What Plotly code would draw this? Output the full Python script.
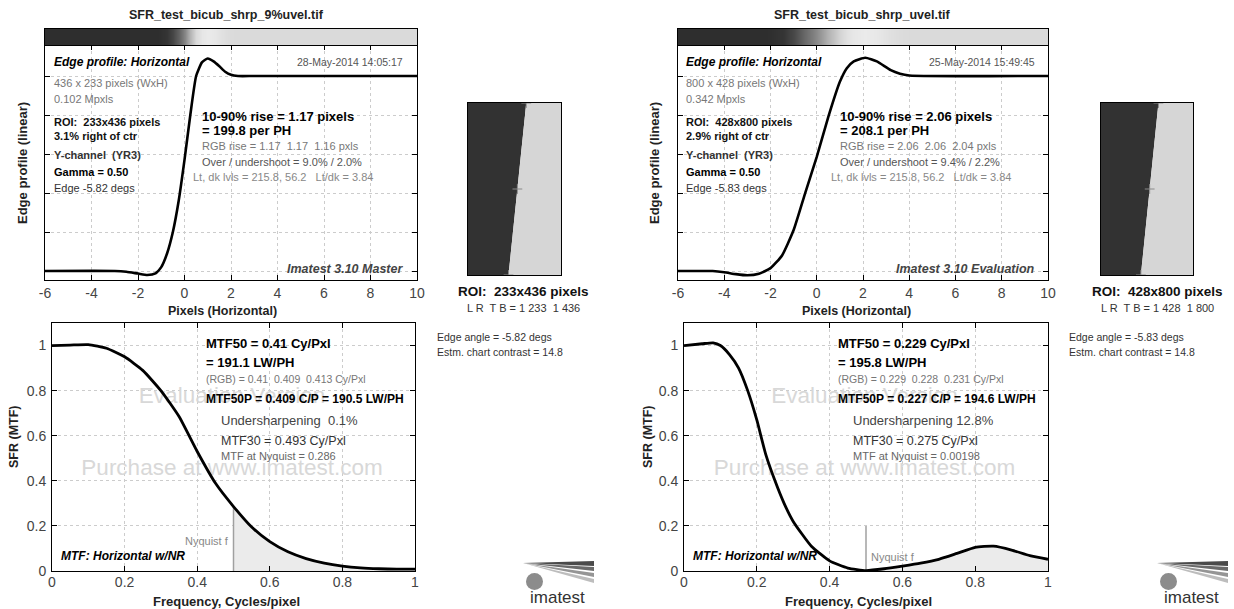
import math
import plotly.graph_objects as go

W, H = 1234, 609
FONT = "Liberation Sans, Arial, Helvetica, sans-serif"
NB = "\u00a0"

# ---------------- data ----------------
file_names = ["SFR_test_bicub_shrp_9%uvel.tif", "SFR_test_bicub_shrp_uvel.tif"]
dates = ["28-May-2014 14:05:17", "25-May-2014 15:49:45"]
image_size = ["436 x 233 pixels (WxH)", "800 x 428 pixels (WxH)"]
mpxls = ["0.102 Mpxls", "0.342 Mpxls"]
roi_w = [233, 428]
roi_h = [436, 800]
roi_offset_pct = [3.1, 2.9]
edge_angle = [-5.82, -5.83]
gamma = [0.50, 0.50]
rise_px = [1.17, 2.06]
rise_ph = [199.8, 208.1]
rgb_rise = [[1.17, 1.17, 1.16], [2.06, 2.06, 2.04]]
over_under = [[9.0, 2.0], [9.4, 2.2]]
lt_dk = [[215.8, 56.2, 3.84], [215.8, 56.2, 3.84]]
version = ["Imatest 3.10 Master", "Imatest 3.10 Evaluation"]
mtf50 = [0.41, 0.229]
mtf50_lwph = [191.1, 195.8]
mtf50_rgb = [["0.41", "0.409", "0.413"], ["0.229", "0.228", "0.231"]]
mtf50p = [0.409, 0.227]
mtf50p_lwph = [190.5, 194.6]
undersharp = ["0.1%", "12.8%"]
mtf30 = [0.493, 0.275]
mtf_nyq = ["0.286", "0.00198"]
chart_contrast = [14.8, 14.8]
nyquist_f = 0.5

edge_x_left = [-6, -3, -2.5, -2, -1.6, -1.25, -1, -0.75, -0.5, -0.25, 0, 0.25, 0.5,
               0.75, 1.0, 1.25, 1.5, 1.75, 2.0, 2.3, 3, 10]
edge_y_left = [0, 0, -0.004, -0.013, -0.02, -0.012, 0.02, 0.09, 0.2, 0.36, 0.57, 0.80, 1.0,
               1.07, 1.09, 1.075, 1.05, 1.022, 1.006, 1.0, 1.0, 1.0]
edge_x_right = [-6, -4.5, -4, -3.5, -3, -2.5, -2, -1.5, -1, -0.5, 0, 0.5, 1.0, 1.3,
                1.6, 2.1, 2.6, 3.2, 3.6, 4.0, 10]
edge_y_right = [0, 0, -0.006, -0.016, -0.022, -0.014, 0.015, 0.08, 0.21, 0.40, 0.585, 0.79,
                0.97, 1.04, 1.075, 1.094, 1.075, 1.03, 1.012, 1.003, 1.0]

mtf_f_left = [0, 0.05, 0.1, 0.15, 0.2, 0.25, 0.3, 0.35, 0.4, 0.45, 0.5, 0.55, 0.6, 0.65,
              0.7, 0.75, 0.8, 0.85, 0.9, 0.95, 1.0]
mtf_left = [1.0, 1.002, 1.004, 0.988, 0.95, 0.89, 0.80, 0.685, 0.53, 0.39, 0.286, 0.195,
            0.13, 0.085, 0.055, 0.035, 0.022, 0.014, 0.010, 0.008, 0.008]
mtf_f_right = [0, 0.05, 0.08, 0.1, 0.125, 0.15, 0.175, 0.2, 0.225, 0.25, 0.275, 0.3, 0.35,
               0.4, 0.45, 0.5, 0.55, 0.6, 0.65, 0.7, 0.75, 0.8, 0.85, 0.9, 0.95, 1.0]
mtf_right = [1.0, 1.008, 1.012, 1.0, 0.96, 0.90, 0.80, 0.67, 0.515, 0.40, 0.30, 0.22, 0.11,
             0.045, 0.013, 0.002, 0.01, 0.022, 0.035, 0.052, 0.078, 0.105, 0.11, 0.093,
             0.068, 0.052]

edge_ticks = [-6, -4, -2, 0, 2, 4, 6, 8, 10]
edge_labels = ["-6", "-4", "-2", "0", "2", "4", "6", "8", "10"]
level_ticks = [0, 0.2, 0.4, 0.6, 0.8, 1.0]
freq_ticks = [0, 0.2, 0.4, 0.6, 0.8, 1.0]
freq_labels = ["0", "0.2", "0.4", "0.6", "0.8", "1"]
sfr_ticks = [0, 0.2, 0.4, 0.6, 0.8, 1.0]
sfr_labels = ["0", "0.2", "0.4", "0.6", "0.8", "1"]

edge_x = [edge_x_left, edge_x_right]
edge_y = [edge_y_left, edge_y_right]
mtf_f = [mtf_f_left, mtf_f_right]
mtf_v = [mtf_left, mtf_right]

# ---------------- layout geometry (pixels) ----------------
TOP_X = [(45, 417), (678, 1048)]
BOT_X = [(52, 415), (684, 1048)]
ROI_X = [(468, 561), (1101, 1193)]
TOP_Y = (45, 280)
BAR_Y = (29, 45)
BOT_Y = (323, 571)
ROI_Y = (103, 275)


def dx(a, b):
    return [a / W, b / W]


def dy(a, b):
    return [1 - b / H, 1 - a / H]


def ann(x, y, text, size=11, color="#000", bold=False, italic=False, xanchor="left",
        angle=0):
    text = text.replace("  ", NB + " ")
    if italic:
        text = f"<i>{text}</i>"
    if bold:
        text = f"<b>{text}</b>"
    return dict(x=x / W, y=1 - y / H, xref="paper", yref="paper", text=text,
                showarrow=False, xanchor=xanchor, yanchor="middle", textangle=angle,
                font=dict(family=FONT, size=size, color=color))


fig = go.Figure()
annotations = []
shapes = []
layout_axes = {}

GRID = dict(showgrid=True, gridcolor="#cccccc", griddash="dot", gridwidth=1)
FRAME = dict(showline=True, linecolor="#000", linewidth=1, mirror="ticks", zeroline=False,
             ticks="inside", ticklen=5, tickcolor="#000", tickwidth=1, automargin=False,
             tickfont=dict(family=FONT, size=14, color="#444"))
PLAIN = dict(showgrid=False, showticklabels=False, ticks="", zeroline=False, showline=True,
             mirror=True, linecolor="#000", linewidth=1, automargin=False)

bar_scale = [[0, "#2e2e2e"], [0.09, "#363636"], [0.45, "#7a7a7a"], [0.88, "#d4d4d4"],
             [1, "#ececec"]]

for s in range(2):
    ox = 632 * s
    n = 4 * s
    ia, ib, ic, idd = n + 1, n + 2, n + 3, n + 4
    xa = lambda i: "x" if i == 1 else f"x{i}"
    ya = lambda i: "y" if i == 1 else f"y{i}"
    lk = lambda p, i: f"{p}axis" if i == 1 else f"{p}axis{i}"

    # --- edge profile ---
    fig.add_trace(go.Scatter(x=edge_x[s], y=edge_y[s], mode="lines",
                             line=dict(color="#000", width=2.6, shape="spline", smoothing=0.5),
                             xaxis=xa(ia), yaxis=ya(ia), showlegend=False, hoverinfo="skip"))
    layout_axes[lk("x", ia)] = dict(domain=dx(*TOP_X[s]), range=[-6, 10], tickvals=edge_ticks,
                                    ticktext=edge_labels, anchor=ya(ia), ticklabelstandoff=0,
                                    **GRID, **FRAME)
    layout_axes[lk("y", ia)] = dict(domain=dy(*TOP_Y), range=[-0.046, 1.159],
                                    tickvals=level_ticks, showticklabels=False,
                                    anchor=xa(ia), **GRID, **FRAME)

    # --- gray-level bar above the profile ---
    fig.add_trace(go.Heatmap(x=edge_x[s], y=[0, 1], z=[edge_y[s], edge_y[s]],
                             colorscale=bar_scale, zmin=0, zmax=1.1, zsmooth="best",
                             showscale=False, xaxis=xa(ib), yaxis=ya(ib), hoverinfo="skip"))
    layout_axes[lk("x", ib)] = dict(domain=dx(*TOP_X[s]), range=[-6, 10], anchor=ya(ib),
                                    **PLAIN)
    layout_axes[lk("y", ib)] = dict(domain=dy(*BAR_Y), range=[0, 1], anchor=xa(ib), **PLAIN)

    # --- MTF ---
    fv = mtf_f[s]
    mv = mtf_v[s]
    fig.add_trace(go.Scatter(x=[0.496, 0.496], y=[0.77, 0.449], mode="text",
                             text=["Evaluation Version", "Purchase at www.imatest.com"],
                             textfont=dict(family=FONT, size=22.5, color="#d8d8d8"),
                             textposition="middle center", xaxis=xa(ic), yaxis=ya(ic),
                             showlegend=False, hoverinfo="skip"))
    hi_f = [f for f in fv if f >= nyquist_f]
    hi_v = [v for f, v in zip(fv, mv) if f >= nyquist_f]
    fig.add_trace(go.Scatter(x=hi_f, y=hi_v, mode="lines", fill="tozeroy",
                             fillcolor="#ebebeb", line=dict(width=0, shape="spline",
                                                            smoothing=0.5),
                             xaxis=xa(ic), yaxis=ya(ic), showlegend=False, hoverinfo="skip"))
    nyq_v = mv[fv.index(nyquist_f)]
    fig.add_trace(go.Scatter(x=[nyquist_f, nyquist_f], y=[0, max(0.2, nyq_v)], mode="lines",
                             line=dict(color="#a0a0a0", width=1.5), xaxis=xa(ic),
                             yaxis=ya(ic), showlegend=False, hoverinfo="skip"))
    fig.add_trace(go.Scatter(x=fv, y=mv, mode="lines",
                             line=dict(color="#000", width=2.8, shape="spline", smoothing=0.5),
                             xaxis=xa(ic), yaxis=ya(ic), showlegend=False, hoverinfo="skip"))
    layout_axes[lk("x", ic)] = dict(domain=dx(*BOT_X[s]), range=[0, 1], tickvals=freq_ticks,
                                    ticktext=freq_labels, anchor=ya(ic),
                                    ticklabelstandoff=-2, **GRID, **FRAME)
    layout_axes[lk("y", ic)] = dict(domain=dy(*BOT_Y), range=[0, 1.1], tickvals=sfr_ticks,
                                    ticktext=sfr_labels, anchor=xa(ic),
                                    ticklabelstandoff=2, **GRID, **FRAME)

    # --- ROI image ---
    w, h = roi_w[s], roi_h[s]
    cx = w * (0.5 + roi_offset_pct[s] / 100)
    shift = -h * math.tan(math.radians(edge_angle[s]))
    x_top, x_bot = cx + shift / 2, cx - shift / 2
    fig.add_trace(go.Scatter(x=[0, x_top, x_bot, 0, 0], y=[0, 0, h, h, 0], mode="lines",
                             fill="toself", fillcolor="#323232", line=dict(width=0),
                             xaxis=xa(idd), yaxis=ya(idd), showlegend=False,
                             hoverinfo="skip"))
    fig.add_trace(go.Scatter(x=[x_top, w, w, x_bot, x_top], y=[0, 0, h, h, 0], mode="lines",
                             fill="toself", fillcolor="#d6d6d6", line=dict(width=0),
                             xaxis=xa(idd), yaxis=ya(idd), showlegend=False,
                             hoverinfo="skip"))
    fig.add_trace(go.Scatter(x=[cx, x_top, x_bot], y=[h / 2, 0, h], mode="markers",
                             marker=dict(symbol="cross-thin", size=7,
                                         line=dict(color="#8a8a8a", width=1)),
                             xaxis=xa(idd), yaxis=ya(idd), showlegend=False,
                             hoverinfo="skip"))
    layout_axes[lk("x", idd)] = dict(domain=dx(*ROI_X[s]), range=[0, w], anchor=ya(idd),
                                     **PLAIN)
    layout_axes[lk("y", idd)] = dict(domain=dy(*ROI_Y), range=[h, 0], anchor=xa(idd), **PLAIN)

    # --- texts ---
    title_x = [226, 862][s]
    annotations.append(ann(title_x, 15, file_names[s], 12.5, "#222", bold=True, xanchor="center"))
    annotations.append(ann(52 + ox, 62, "Edge profile: Horizontal", 12, "#000", bold=True,
                           italic=True))
    annotations.append(ann(405 + ox, 62, dates[s], 10.5, "#555", xanchor="right"))
    annotations.append(ann(52 + ox, 83, image_size[s], 11, "#777"))
    annotations.append(ann(52 + ox, 99, mpxls[s], 11, "#777"))
    annotations.append(ann(52 + ox, 122, f"ROI:  {w}x{h} pixels", 11, "#111", bold=True))
    annotations.append(ann(52 + ox, 136, f"{roi_offset_pct[s]}% right of ctr", 11, "#111",
                           bold=True))
    annotations.append(ann(52 + ox, 155, "Y-channel  (YR3)", 11, "#333", bold=True))
    annotations.append(ann(52 + ox, 172, f"Gamma = {gamma[s]:.2f}", 11, "#000", bold=True))
    annotations.append(ann(52 + ox, 188, f"Edge {edge_angle[s]} degs", 11, "#333"))
    ro = ox + 6 * s
    annotations.append(ann(200 + ro, 117, f"10-90% rise = {rise_px[s]} pixels", 13, "#000",
                           bold=True))
    annotations.append(ann(200 + ro, 131, f"= {rise_ph[s]} per PH", 13, "#000", bold=True))
    r = rgb_rise[s]
    annotations.append(ann(200 + ro, 146, f"RGB rise = {r[0]:.2f}  {r[1]:.2f}  {r[2]:.2f} pxls",
                           11, "#777"))
    ou = over_under[s]
    annotations.append(ann(200 + ro, 162, f"Over / undershoot = {ou[0]:.1f}% / {ou[1]:.1f}%",
                           11, "#555"))
    ld = lt_dk[s]
    annotations.append(ann(191 + ro, 177, f"Lt, dk lvls = {ld[0]}, {ld[1]}   Lt/dk = {ld[2]}",
                           11, "#888"))
    annotations.append(ann(405 + ox, 269, version[s], 12.5, "#444", bold=True, italic=True,
                           xanchor="right"))

    annotations.append(ann(22 + ox, 163, "Edge profile (linear)", 13, "#222", bold=True,
                           xanchor="center", angle=-90))
    annotations.append(ann([222, 856][s], 311, "Pixels (Horizontal)", 12.5, "#222", bold=True,
                           xanchor="center"))
    annotations.append(ann([14, 648][s], 437, "SFR (MTF)", 12.5, "#222", bold=True,
                           xanchor="center", angle=-90))
    annotations.append(ann([226, 858][s], 601, "Frequency, Cycles/pixel", 13, "#222",
                           bold=True, xanchor="center"))

    annotations.append(ann(204 + ox, 343, f"MTF50 = {mtf50[s]} Cy/Pxl", 13, "#000", bold=True))
    annotations.append(ann(204 + ox, 362, f"= {mtf50_lwph[s]} LW/PH", 13, "#000", bold=True))
    g = mtf50_rgb[s]
    annotations.append(ann(204 + ox, 379, f"(RGB) = {g[0]}  {g[1]}  {g[2]} Cy/Pxl", 10.5,
                           "#777"))
    annotations.append(ann(204 + ox, 399,
                           f"MTF50P = {mtf50p[s]} C/P = {mtf50p_lwph[s]} LW/PH", 12, "#000",
                           bold=True))
    us_txt = "Undersharpening  " + undersharp[s] if s == 0 else "Undersharpening " + undersharp[s]
    annotations.append(ann(219 + ox, 420, us_txt, 13, "#444"))
    annotations.append(ann(219 + ox, 441, f"MTF30 = {mtf30[s]} Cy/Pxl", 12.5, "#333"))
    annotations.append(ann(219 + ox, 456, f"MTF at Nyquist = {mtf_nyq[s]}", 11, "#666"))
    if s == 0:
        annotations.append(ann(231, 541, "Nyquist f", 11, "#888", xanchor="right"))
    else:
        annotations.append(ann(869, 557, "Nyquist f", 11, "#888"))
    annotations.append(ann(59 + ox, 556, "MTF: Horizontal w/NR", 12, "#000", bold=True,
                           italic=True))

    roi_cx = [523, 1157][s]
    annotations.append(ann(roi_cx, 291, f"ROI:  {w}x{h} pixels", 13.5, "#111", bold=True,
                           xanchor="center"))
    annotations.append(ann(roi_cx, 308, f"L R  T B = 1 {w}  1 {h}", 11, "#333",
                           xanchor="center"))
    annotations.append(ann(435 + ox, 337, f"Edge angle = {edge_angle[s]} degs", 10.5, "#333"))
    annotations.append(ann(435 + ox, 352, f"Estm. chart contrast = {chart_contrast[s]}", 10.5,
                           "#333"))

    # --- imatest logo ---
    lx = 523 + [0, 634][s]
    ax, ay = lx, 563
    fan = [(561, 566, "#4a4a4a"), (567, 571, "#6a6a6a"), (573, 577, "#959595"),
           (579, 583, "#bdbdbd")]
    for y0, y1, col in fan:
        path = (f"M {ax / W} {1 - ay / H} L {(lx + 71) / W} {1 - y0 / H} "
                f"L {(lx + 71) / W} {1 - y1 / H} Z")
        shapes.append(dict(type="path", xref="paper", yref="paper", path=path,
                           fillcolor=col, line=dict(width=0)))
    ccx, ccy, rr = lx + 11.5, 581.5, 8.5
    shapes.append(dict(type="circle", xref="paper", yref="paper",
                       x0=(ccx - rr) / W, x1=(ccx + rr) / W, y0=1 - (ccy + rr) / H,
                       y1=1 - (ccy - rr) / H, fillcolor="#8c8c8c", line=dict(width=0)))
    annotations.append(ann(lx + 34, 597.5, "imatest", 17, "#333", xanchor="center"))

fig.update_layout(
    template="none",
    width=W, height=H, margin=dict(l=0, r=0, t=0, b=0, pad=0), autosize=False,
    paper_bgcolor="#fff", plot_bgcolor="#fff", showlegend=False,
    annotations=annotations, shapes=shapes, **layout_axes,
)

fig.write_html("out.html", config={"displayModeBar": False},
               post_script="document.body.style.margin='0';document.body.style.overflow='hidden';")
